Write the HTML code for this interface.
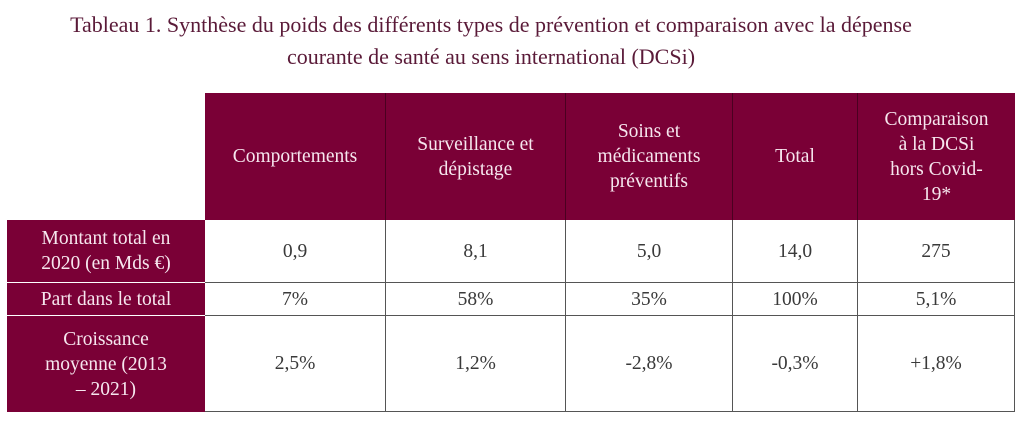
<!DOCTYPE html>
<html><head><meta charset="utf-8"><style>
body{margin:0;width:1024px;height:427px;background:#fff;position:relative;overflow:hidden;font-family:"Liberation Serif",serif}
.t{position:absolute;left:0;width:982px;text-align:center;color:#5a1a38;font-size:22px;white-space:nowrap}
.c{position:absolute;box-sizing:border-box;display:flex;align-items:center;justify-content:center;text-align:center;font-size:19.5px;line-height:25px}
.h{background:#7a0036;color:#f6e6ee;border-right:1px solid #4a0020}
.r{background:#7a0036;color:#f6e6ee}
.d{color:#3a3a3a;border-right:1.5px solid #555;border-bottom:1.5px solid #555}
</style></head><body>
<div class="t" style="top:12px">Tableau 1. Synthèse du poids des différents types de prévention et comparaison avec la dépense</div>
<div class="t" style="top:44px">courante de santé au sens international (DCSi)</div>

<div class="c h" style="left:205px;top:93px;width:181px;height:127px">Comportements</div>
<div class="c h" style="left:386px;top:93px;width:180px;height:127px">Surveillance et<br>dépistage</div>
<div class="c h" style="left:566px;top:93px;width:167px;height:127px">Soins et<br>médicaments<br>préventifs</div>
<div class="c h" style="left:733px;top:93px;width:125px;height:127px">Total</div>
<div class="c h" style="left:858px;top:93px;width:157px;height:127px;border-right:none">Comparaison<br>à la DCSi<br>hors Covid-<br>19*</div>

<div class="c r" style="left:7px;top:220px;width:198px;height:63px;border-bottom:1px solid #fff">Montant total en<br>2020 (en Mds €)</div>
<div class="c r" style="left:7px;top:283px;width:198px;height:33px;border-bottom:1px solid #fff">Part dans le total</div>
<div class="c r" style="left:7px;top:316px;width:198px;height:96px">Croissance<br>moyenne (2013<br>– 2021)</div>

<div class="c d" style="left:205px;top:220px;width:181px;height:63px">0,9</div>
<div class="c d" style="left:386px;top:220px;width:180px;height:63px">8,1</div>
<div class="c d" style="left:566px;top:220px;width:167px;height:63px">5,0</div>
<div class="c d" style="left:733px;top:220px;width:125px;height:63px">14,0</div>
<div class="c d" style="left:858px;top:220px;width:157px;height:63px">275</div>

<div class="c d" style="left:205px;top:283px;width:181px;height:33px">7%</div>
<div class="c d" style="left:386px;top:283px;width:180px;height:33px">58%</div>
<div class="c d" style="left:566px;top:283px;width:167px;height:33px">35%</div>
<div class="c d" style="left:733px;top:283px;width:125px;height:33px">100%</div>
<div class="c d" style="left:858px;top:283px;width:157px;height:33px">5,1%</div>

<div class="c d" style="left:205px;top:316px;width:181px;height:96px">2,5%</div>
<div class="c d" style="left:386px;top:316px;width:180px;height:96px">1,2%</div>
<div class="c d" style="left:566px;top:316px;width:167px;height:96px">-2,8%</div>
<div class="c d" style="left:733px;top:316px;width:125px;height:96px">-0,3%</div>
<div class="c d" style="left:858px;top:316px;width:157px;height:96px">+1,8%</div>
</body></html>
